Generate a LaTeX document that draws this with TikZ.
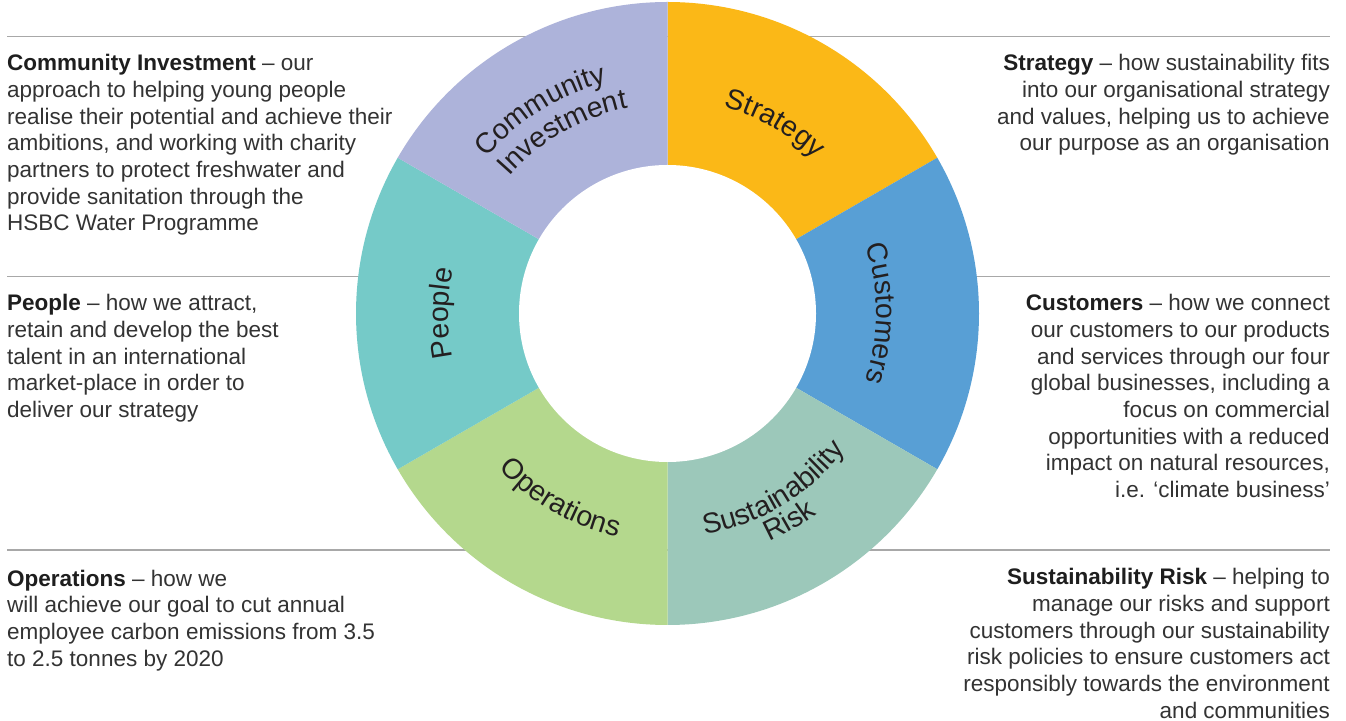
\documentclass[tikz,border=0pt]{standalone}
\usepackage{fontspec}
\setmainfont{Liberation Sans}
\usetikzlibrary{decorations.text}
\definecolor{cstrat}{HTML}{FBB817}
\definecolor{ccust}{HTML}{589FD5}
\definecolor{crisk}{HTML}{9CC8BA}
\definecolor{coper}{HTML}{B4D88D}
\definecolor{cpeople}{HTML}{75CAC8}
\definecolor{ccomm}{HTML}{ADB3DA}
\definecolor{linegray}{HTML}{A8A8A8}
\definecolor{bodytext}{HTML}{333333}
\definecolor{boldtext}{HTML}{1E1E1E}
\definecolor{ringtext}{HTML}{231F20}
\newcommand{\ringfont}{\fontsize{28.5}{28.5}\selectfont}
\newcommand{\bodyfont}{\fontsize{22.5}{26.7}\selectfont}
\newcommand{\hd}[1]{{\bfseries\color{boldtext}#1}}
\begin{document}
\begin{tikzpicture}[x=1pt,y=1pt,
  sepline/.style={draw=linegray, line width=1.3pt},
  leftblock/.style={anchor=north west, align=left, inner sep=0pt, font=\bodyfont, text=bodytext},
  rightblock/.style={anchor=north east, align=right, inner sep=0pt, font=\bodyfont, text=bodytext},
  ringlabel/.style={decorate, decoration={text along path, text align=center, text color=ringtext}}]
\useasboundingbox (0,0) rectangle (1346,720);
\fill[white] (0,0) rectangle (1346,720);
% separator lines
\coordinate (l1a) at (7,683.5);  \coordinate (l1b) at (1330,683.5);
\coordinate (l2a) at (7,443.5);  \coordinate (l2b) at (1330,443.5);
\coordinate (l3a) at (7,170);    \coordinate (l3b) at (1330,170);
\draw[sepline] (l1a) -- (l1b);
\draw[sepline] (l2a) -- (l2b);
\draw[sepline] (l3a) -- (l3b);
% ring
\begin{scope}[shift={(667.5,406.5)}]
\fill[cstrat]  (0,0) -- (90:311.5)  arc[start angle=90,  end angle=30,  radius=311.5] -- cycle;
\fill[ccust]   (0,0) -- (30:311.5)  arc[start angle=30,  end angle=-30, radius=311.5] -- cycle;
\fill[crisk]   (0,0) -- (-30:311.5) arc[start angle=-30, end angle=-90, radius=311.5] -- cycle;
\fill[coper]   (0,0) -- (-90:311.5) arc[start angle=-90, end angle=-150,radius=311.5] -- cycle;
\fill[cpeople] (0,0) -- (210:311.5) arc[start angle=210, end angle=150, radius=311.5] -- cycle;
\fill[ccomm]   (0,0) -- (150:311.5) arc[start angle=150, end angle=90,  radius=311.5] -- cycle;
\fill[white] (0,0) circle[radius=148.5];
% ring labels
\path[ringlabel, decoration={text={|\ringfont|Strategy}}]
  (100.6:214) arc[start angle=100.6, end angle=20.6, radius=214];
\path[ringlabel, decoration={text={|\ringfont|Customers}}]
  (40:209) arc[start angle=40, end angle=-40, radius=209];
\path[ringlabel, decoration={text={|\ringfont|People}}]
  (220:219) arc[start angle=220, end angle=140, radius=219];
\path[ringlabel, decoration={text={|\ringfont|Community}}]
  (162:239) arc[start angle=162, end angle=82, radius=239];
\path[ringlabel, decoration={text={|\ringfont|Investment}}]
  (160:209) arc[start angle=160, end angle=80, radius=209];
\path[ringlabel, decoration={text={|\ringfont|Operations}}]
  (-160:229) arc[start angle=-160, end angle=-80, radius=229];
\path[ringlabel, decoration={text={|\ringfont|Sustainability}}]
  (-104:224) arc[start angle=-104, end angle=-14, radius=224];
\path[ringlabel, decoration={text={|\ringfont|Risk}}]
  (-99.6:250) arc[start angle=-99.6, end angle=-19.6, radius=250];
\end{scope}
% text blocks
\node[leftblock] (tcomm) at (7,668.2) {\strut\hd{Community Investment} – our\\approach to helping young people\\realise their potential and achieve their\\ambitions, and working with charity\\partners to protect freshwater and\\provide sanitation through the\\HSBC Water Programme};
\node[leftblock] (tpeople) at (7,428.2) {\strut\hd{People} – how we attract,\\retain and develop the best\\talent in an international\\market-place in order to\\deliver our strategy};
\node[leftblock] (toper) at (7,152.7) {\strut\hd{Operations} – how we\\will achieve our goal to cut annual\\employee carbon emissions from 3.5\\to 2.5 tonnes by 2020};
\node[rightblock] (tstrat) at (1330,668.2) {\strut\hd{Strategy} – how sustainability fits\\into our organisational strategy\\and values, helping us to achieve\\our purpose as an organisation};
\node[rightblock] (tcust) at (1330,428.2) {\strut\hd{Customers} – how we connect\\our customers to our products\\and services through our four\\global businesses, including a\\focus on commercial\\opportunities with a reduced\\impact on natural resources,\\i.e. ‘climate business’};
\node[rightblock] (trisk) at (1330,154.2) {\strut\hd{Sustainability Risk} – helping to\\manage our risks and support\\customers through our sustainability\\risk policies to ensure customers act\\responsibly towards the environment\\and communities};
\end{tikzpicture}
\end{document}
